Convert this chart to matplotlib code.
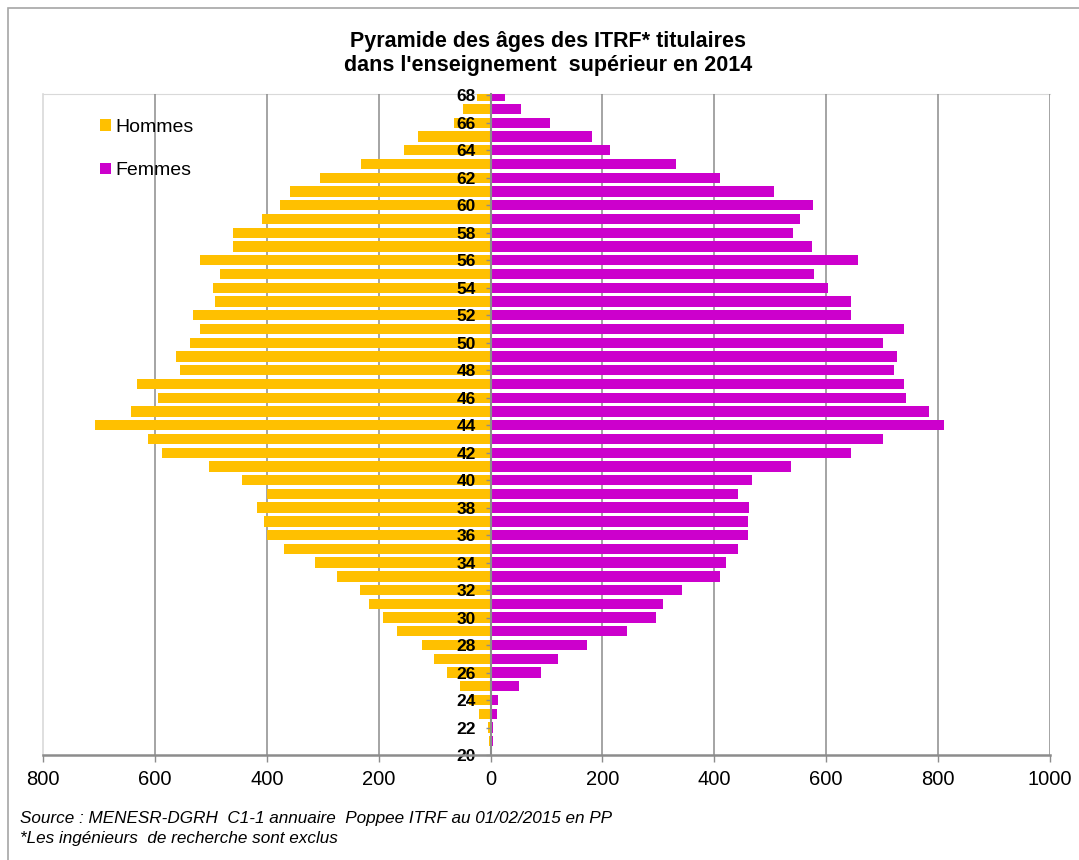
import matplotlib
matplotlib.use('Agg')
import matplotlib.pyplot as plt
from matplotlib.patches import Rectangle
from matplotlib.ticker import FuncFormatter

plt.rcParams['font.family'] = ['Liberation Sans', 'DejaVu Sans']

# Effectifs par âge (20 à 68 ans)
ages = list(range(20, 69))
hommes = [1, 2, 5, 20, 38, 54, 78, 101, 122, 167, 193, 218, 234, 274, 314, 370,
          400, 405, 418, 399, 445, 504, 588, 613, 707, 643, 595, 632, 555, 562,
          538, 520, 532, 493, 496, 484, 520, 461, 461, 409, 377, 358, 304, 232,
          154, 129, 66, 49, 24]
femmes = [3, 4, 4, 11, 14, 51, 91, 121, 173, 243, 296, 308, 343, 411, 421, 443,
          460, 460, 462, 443, 467, 537, 645, 701, 811, 783, 743, 739, 722, 727,
          701, 739, 645, 645, 603, 579, 657, 575, 540, 554, 577, 507, 411, 332,
          214, 182, 107, 55, 25]

x_ticks = list(range(-800, 1001, 200))
y_ticks = list(range(20, 69, 2))

fig = plt.figure(figsize=(10.79, 8.6), dpi=100)
ax = fig.add_axes([43 / 1079, 1 - 755 / 860, (1050 - 43) / 1079, (755 - 94) / 860])

# grille verticale sous les barres
for x in x_ticks:
    if x not in (0, -800):
        ax.axvline(x, color='#8c8c8c', lw=1.1, zorder=0.5)

ax.barh(ages, [-h for h in hommes], height=0.75, color='#FFC000', label='Hommes', zorder=1)
ax.barh(ages, femmes, height=0.75, color='#CC00CC', label='Femmes', zorder=1)

ax.set_xlim(-800, 1000)
ax.set_ylim(20, 68.1)
ax.set_xticks(x_ticks)
ax.xaxis.set_major_formatter(FuncFormatter(lambda v, p: f'{abs(int(v))}'))
ax.set_yticks(y_ticks)

ax.spines['left'].set_position(('data', 0))
ax.spines['left'].set_color('#8c8c8c')
ax.spines['left'].set_linewidth(1.5)
ax.spines['bottom'].set_color('#8c8c8c')
ax.spines['bottom'].set_linewidth(1.8)
ax.spines['top'].set_color('#d9d9d9')
ax.spines['top'].set_zorder(0.4)
ax.spines['right'].set_visible(False)

ax.tick_params(axis='x', direction='out', length=5, width=1, color='#8c8c8c',
               labelsize=14.5, pad=5.5)
ax.tick_params(axis='y', direction='out', length=3.5, width=1, color='#8c8c8c',
               labelsize=12.5, pad=7)
for lab in ax.get_yticklabels():
    lab.set_fontweight('bold')

# cadre gris clair à gauche de la zone de tracé
ax.plot([0, 0], [0, 1], transform=ax.transAxes, color='#d9d9d9', lw=1.2, clip_on=False)

fig.text(548 / 1079, 1 - 41 / 860, 'Pyramide des âges des ITRF* titulaires',
         ha='center', va='center', fontsize=15.5, fontweight='bold')
fig.text(548 / 1079, 1 - 65 / 860, "dans l'enseignement  supérieur en 2014",
         ha='center', va='center', fontsize=15.5, fontweight='bold')

ax.legend(loc='upper left', bbox_to_anchor=(100 / 1079, 1 - 119 / 860),
          bbox_transform=fig.transFigure, frameon=False, fontsize=14,
          handlelength=0.55, handleheight=0.55, handletextpad=0.25,
          labelspacing=1.35, borderpad=0, borderaxespad=0)

fig.text(20 / 1079, 1 - 818 / 860,
         'Source : MENESR-DGRH  C1-1 annuaire  Poppee ITRF au 01/02/2015 en PP',
         ha='left', va='center', fontsize=12.3, style='italic')
fig.text(20 / 1079, 1 - 838 / 860, '*Les ingénieurs  de recherche sont exclus',
         ha='left', va='center', fontsize=12.3, style='italic')

# bordure du graphique
fig.patches.append(Rectangle((8 / 1079, -0.05), 1.2, 1 - 8 / 860 + 0.05,
                             transform=fig.transFigure, fill=False,
                             edgecolor='#a6a6a6', lw=1.2))

fig.savefig('out.png', dpi=100)
